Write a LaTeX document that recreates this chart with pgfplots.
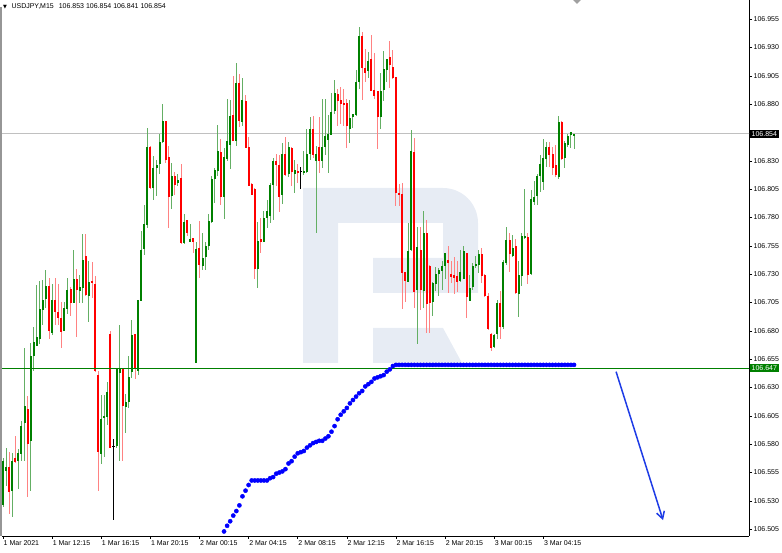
\documentclass[border=0pt]{standalone}
\usepackage{pgfplots}
\pgfplotsset{compat=1.18}
\usepackage{pgfplotstable}
\usepackage{fontspec}
\setmainfont{Liberation Sans}
\newfontfamily\dejavu{DejaVu Sans}
\usetikzlibrary{arrows.meta}
\definecolor{upbody}{RGB}{0,128,0}
\definecolor{upwick}{RGB}{100,175,100}
\definecolor{dnbody}{RGB}{255,0,0}
\definecolor{dnwick}{RGB}{255,130,130}
\definecolor{lvl}{RGB}{0,128,0}
\definecolor{wm}{RGB}{231,236,244}
\definecolor{dotblue}{RGB}{0,0,255}
\definecolor{arrowblue}{RGB}{30,60,230}

\pgfplotstableread{
i o h l c
0 106.528 106.568 106.525 106.567
1 106.558 106.578 106.544 106.561
2 106.561 106.574 106.519 106.539
3 106.539 106.574 106.517 106.566
4 106.568 106.588 106.564 106.565
5 106.566 106.577 106.542 106.573
6 106.573 106.601 106.566 106.598
7 106.598 106.665 106.566 106.613
8 106.613 106.624 106.535 106.582
9 106.582 106.670 106.539 106.657
10 106.657 106.683 106.645 106.670
11 106.668 106.721 106.668 106.676
12 106.674 106.724 106.668 106.700
13 106.699 106.725 106.686 106.708
14 106.708 106.734 106.700 106.720
15 106.721 106.728 106.674 106.681
16 106.679 106.722 106.677 106.708
17 106.708 106.728 106.686 106.698
18 106.698 106.722 106.686 106.692
19 106.692 106.706 106.665 106.680
20 106.680 106.705 106.680 106.700
21 106.700 106.727 106.695 106.717
22 106.718 106.720 106.695 106.706
23 106.706 106.752 106.705 106.727
24 106.727 106.736 106.676 106.717
25 106.715 106.730 106.705 106.719
26 106.719 106.766 106.705 106.744
27 106.747 106.766 106.711 106.712
28 106.712 106.743 106.689 106.724
29 106.724 106.741 106.709 106.722
30 106.722 106.730 106.645 106.645
31 106.642 106.645 106.539 106.574
32 106.573 106.624 106.563 106.604
33 106.604 106.624 106.570 106.606
34 106.605 106.636 106.598 106.627
35 106.677 106.680 106.577 106.577
37 106.578 106.648 106.577 106.646
38 106.643 106.686 106.566 106.648
39 106.646 106.648 106.566 106.614
40 106.614 106.626 106.591 106.618
41 106.618 106.659 106.613 106.640
42 106.645 106.690 106.638 106.678
43 106.678 106.678 106.639 106.648
44 106.645 106.708 106.643 106.708
45 106.708 106.768 106.706 106.753
46 106.753 106.791 106.747 106.775
47 106.774 106.859 106.771 106.843
48 106.843 106.843 106.805 106.807
49 106.807 106.835 106.796 106.825
50 106.825 106.832 106.800 106.828
51 106.828 106.854 106.818 106.848
52 106.848 106.881 106.846 106.866
53 106.866 106.866 106.829 106.832
54 106.835 106.844 106.772 106.800
55 106.800 106.829 106.788 106.818
56 106.818 106.821 106.800 106.810
57 106.811 106.819 106.808 106.814
58 106.815 106.828 106.758 106.758
59 106.758 106.784 106.758 106.777
60 106.778 106.778 106.765 106.766
61 106.759 106.774 106.758 106.762
62 106.762 106.762 106.750 106.758
63 106.652 106.758 106.652 106.752
64 106.754 106.777 106.727 106.739
65 106.739 106.767 106.735 106.746
66 106.746 106.759 106.735 106.755
67 106.755 106.784 106.752 106.777
68 106.777 106.817 106.776 106.815
69 106.814 106.824 106.793 106.822
70 106.822 106.862 106.817 106.839
71 106.839 106.850 106.792 106.799
72 106.799 106.842 106.779 106.834
73 106.834 106.886 106.831 106.850
74 106.845 106.884 106.823 106.871
75 106.871 106.905 106.848 106.848
76 106.848 106.918 106.845 106.899
77 106.899 106.908 106.861 106.865
78 106.865 106.903 106.861 106.884
79 106.884 106.888 106.842 106.842
80 106.843 106.852 106.809 106.809
81 106.811 106.812 106.801 106.801
82 106.806 106.806 106.726 106.736
83 106.736 106.777 106.719 106.761
84 106.762 106.780 106.749 106.759
85 106.759 106.787 106.759 106.781
86 106.781 106.796 106.771 106.787
87 106.782 106.811 106.776 106.809
88 106.809 106.834 106.779 106.830
89 106.830 106.837 106.808 106.827
90 106.827 106.836 106.786 106.799
91 106.800 106.847 106.793 106.837
92 106.837 106.852 106.818 106.818
93 106.818 106.848 106.817 106.842
94 106.842 106.843 106.809 106.821
95 106.820 106.831 106.802 106.824
96 106.823 106.828 106.811 106.821
98 106.820 106.839 106.818 106.822
99 106.821 106.859 106.820 106.837
100 106.837 106.869 106.831 106.859
101 106.859 106.871 106.834 106.836
102 106.830 106.845 106.768 106.837
103 106.843 106.869 106.820 106.830
104 106.830 106.886 106.825 106.843
105 106.842 106.886 106.837 106.852
106 106.850 106.871 106.820 106.855
107 106.853 106.890 106.853 106.874
108 106.874 106.902 106.872 106.890
109 106.890 106.894 106.861 106.884
110 106.885 106.896 106.864 106.881
111 106.882 106.894 106.861 106.880
112 106.881 106.885 106.842 106.861
113 106.860 106.885 106.847 106.869
114 106.869 106.872 106.860 106.871
115 106.871 106.910 106.869 106.900
116 106.900 106.949 106.894 106.940
117 106.941 106.944 106.884 106.913
118 106.913 106.929 106.900 106.909
119 106.910 106.928 106.905 106.919
120 106.921 106.941 106.893 106.893
121 106.893 106.925 106.885 106.888
122 106.893 106.893 106.842 106.870
123 106.870 106.908 106.859 106.893
124 106.893 106.928 106.884 106.911
125 106.911 106.922 106.902 106.921
126 106.922 106.937 106.896 106.915
127 106.913 106.928 106.903 106.904
128 106.904 106.904 106.790 106.802
129 106.802 106.810 106.790 106.800
130 106.802 106.811 106.700 106.732
131 106.732 106.732 106.707 106.724
132 106.724 106.776 106.724 106.751
133 106.751 106.858 106.751 106.839
134 106.839 106.850 106.700 106.716
135 106.717 106.773 106.669 106.755
136 106.752 106.773 106.700 106.717
137 106.717 106.786 106.700 106.768
138 106.768 106.778 106.679 106.705
139 106.738 106.739 106.679 106.706
140 106.706 106.724 106.694 106.723
141 106.723 106.737 106.716 106.732
142 106.731 106.736 106.711 106.734
143 106.733 106.743 106.717 106.738
144 106.738 106.749 106.726 106.749
145 106.744 106.755 106.713 106.741
146 106.732 106.743 106.724 106.729
147 106.730 106.746 106.713 106.727
148 106.729 106.742 106.714 106.724
149 106.724 106.751 106.723 106.732
150 106.726 106.755 106.726 106.751
151 106.749 106.749 106.692 106.710
152 106.708 106.730 106.707 106.719
153 106.719 106.741 106.717 106.738
154 106.738 106.748 106.737 106.740
155 106.739 106.752 106.732 106.749
156 106.749 106.755 106.724 106.729
157 106.730 106.731 106.710 106.711
158 106.711 106.714 106.682 106.682
159 106.679 106.679 106.663 106.666
160 106.666 106.679 106.666 106.677
161 106.677 106.707 106.673 106.705
162 106.705 106.716 106.673 106.684
163 106.684 106.743 106.682 106.742
164 106.741 106.773 106.739 106.761
165 106.761 106.767 106.733 106.749
166 106.748 106.765 106.746 106.755
167 106.755 106.762 106.713 106.713
168 106.713 106.742 106.692 106.730
169 106.729 106.767 106.721 106.764
170 106.763 106.805 106.761 106.765
171 106.764 106.768 106.723 106.730
172 106.730 106.805 106.730 106.796
173 106.795 106.814 106.793 106.800
174 106.800 106.820 106.793 106.818
175 106.818 106.836 106.803 106.828
176 106.812 106.850 106.805 106.834
177 106.833 106.847 106.825 106.844
178 106.843 106.847 106.825 106.836
179 106.837 106.843 106.818 106.825
180 106.827 106.844 106.816 106.818
181 106.817 106.871 106.815 106.866
182 106.865 106.866 106.831 106.833
183 106.833 106.849 106.825 106.846
184 106.845 106.855 106.844 106.853
185 106.853 106.856 106.843 106.856
186 106.853 106.854 106.841 106.854
}\candles

% doji candles (open = close), drawn in black
\pgfplotstableread{
i o h l c
36 106.578 106.586 106.514 106.578
97 106.821 106.825 106.806 106.821
}\dojis

\pgfplotstableread{
i p
72 106.503
73 106.508
74 106.512
75 106.517
76 106.521
77 106.526
78 106.534
79 106.539
80 106.544
81 106.548
82 106.548
83 106.548
84 106.548
85 106.548
86 106.548
87 106.550
88 106.551
89 106.554
90 106.555
91 106.556
92 106.558
93 106.563
94 106.565
95 106.569
96 106.572
97 106.573
98 106.574
99 106.577
100 106.579
101 106.581
102 106.582
103 106.583
104 106.583
105 106.585
106 106.587
107 106.591
108 106.596
109 106.602
110 106.606
111 106.609
112 106.612
113 106.616
114 106.619
115 106.622
116 106.625
117 106.627
118 106.631
119 106.633
120 106.635
121 106.638
122 106.639
123 106.640
124 106.641
125 106.644
126 106.646
127 106.649
128 106.650
129 106.650
130 106.650
131 106.650
132 106.650
133 106.650
134 106.650
135 106.650
136 106.650
137 106.650
138 106.650
139 106.650
140 106.650
141 106.650
142 106.650
143 106.650
144 106.650
145 106.650
146 106.650
147 106.650
148 106.650
149 106.650
150 106.650
151 106.650
152 106.650
153 106.650
154 106.650
155 106.650
156 106.650
157 106.650
158 106.650
159 106.650
160 106.650
161 106.650
162 106.650
163 106.650
164 106.650
165 106.650
166 106.650
167 106.650
168 106.650
169 106.650
170 106.650
171 106.650
172 106.650
173 106.650
174 106.650
175 106.650
176 106.650
177 106.650
178 106.650
179 106.650
180 106.650
181 106.650
182 106.650
183 106.650
184 106.650
185 106.650
186 106.650
}\signal

\pgfplotsset{
  candlepart/.style n args={2}{draw=none, no marks, forget plot,
    error bars/.cd, y dir=both, y explicit, error mark=none,
    error bar style={draw=#1, line width=#2, solid}},
}

\begin{document}
\begin{tikzpicture}
% watermark logo (decoration, behind the chart)
\fill[wm] (303pt,365pt) -- (443pt,365pt) arc[start angle=90, end angle=0, radius=35pt]
  -- (478pt,260pt) -- (373pt,260pt) -- (373pt,295pt) -- (443pt,295pt) -- (443pt,330pt)
  -- (338pt,330pt) -- (338pt,190pt) -- (303pt,190pt) -- cycle;
\fill[wm] (373pt,225pt) -- (443pt,225pt) -- (462pt,190pt) -- (373pt,190pt) -- cycle;

\begin{axis}[
  at={(2pt,17pt)}, anchor=south west,
  scale only axis, width=747pt, height=536pt,
  xmin=-0.33, xmax=243.0,
  ymin=106.499, ymax=106.972,
  axis x line*=bottom, axis y line*=right,
  axis line style={-, black, line width=0.8pt},
  tick align=outside, major tick length=3pt,
  tick style={black, line width=0.6pt},
  xtick={0,16,32,48,64,80,96,112,128,144,160,176},
  xticklabels={1 Mar 2021, 1 Mar 12:15, 1 Mar 16:15, 1 Mar 20:15, 2 Mar 00:15, 2 Mar 04:15, 2 Mar 08:15, 2 Mar 12:15, 2 Mar 16:15, 2 Mar 20:15, 3 Mar 00:15, 3 Mar 04:15},
  xticklabel style={anchor=north west, xshift=-1pt, inner sep=1.5pt},
  ytick={106.505,106.530,106.555,106.580,106.605,106.630,106.655,106.680,106.705,106.730,106.755,106.780,106.805,106.830,106.880,106.905,106.930,106.955},
  yticklabel style={anchor=west, inner sep=1.5pt},
  yticklabel={\pgfmathprintnumber[fixed, fixed zerofill, precision=3, 1000 sep={}, assume math mode=true]{\tick}},
  /pgf/number format/assume math mode=true,
  tick label style={font=\fontsize{7}{8}\selectfont},
  minor tick num=0,
  clip=true,
]
% current price line
\addplot[color={rgb,255:red,192;green,192;blue,192}, line width=0.8pt, forget plot] coordinates {(-1,106.854) (250,106.854)};

% wicks
\addplot[restrict expr to domain={\thisrow{c}-\thisrow{o}}{0:1}, candlepart={upwick}{1pt}]
  table[x=i, y expr={(\thisrow{h}+\thisrow{l})/2}, y error expr={(\thisrow{h}-\thisrow{l})/2}] {\candles};
\addplot[restrict expr to domain={\thisrow{c}-\thisrow{o}}{-1:-0.0005}, candlepart={dnwick}{1pt}]
  table[x=i, y expr={(\thisrow{h}+\thisrow{l})/2}, y error expr={(\thisrow{h}-\thisrow{l})/2}] {\candles};
\addplot[candlepart={black}{1pt}]
  table[x=i, y expr={(\thisrow{h}+\thisrow{l})/2}, y error expr={(\thisrow{h}-\thisrow{l})/2}] {\dojis};

% bodies
\addplot[restrict expr to domain={\thisrow{c}-\thisrow{o}}{0:1}, candlepart={upbody}{2pt}]
  table[x=i, y expr={(\thisrow{o}+\thisrow{c})/2}, y error expr={abs(\thisrow{c}-\thisrow{o})/2}] {\candles};
\addplot[restrict expr to domain={\thisrow{c}-\thisrow{o}}{-1:-0.0005}, candlepart={dnbody}{2pt}]
  table[x=i, y expr={(\thisrow{o}+\thisrow{c})/2}, y error expr={abs(\thisrow{c}-\thisrow{o})/2}] {\candles};
\addplot[only marks, mark=-, mark size=1.2pt, black, forget plot] table[x=i, y=c] {\dojis};

% support level
\addplot[lvl, line width=1.3pt, forget plot] coordinates {(-1,106.647) (250,106.647)};

% signal dots
\addplot[only marks, mark=*, mark size=2.1pt, color=dotblue, forget plot] table[x=i, y=p] {\signal};

% forecast arrow
\addplot[arrowblue, line width=1.5pt, -{Straight Barb[length=7pt, width=8pt]}, forget plot] coordinates {(199.7,106.644) (215.0,106.513)};

\coordinate (gl) at (axis cs:243.0,106.647);
\coordinate (kl) at (axis cs:243.0,106.854);
\end{axis}

\node[fill=lvl, text=white, anchor=west, inner xsep=2pt, inner ysep=1.5pt, font=\fontsize{7}{8}\selectfont] at ([xshift=0.5pt]gl) {106.647};
\node[fill=black, text=white, anchor=west, inner xsep=2pt, inner ysep=1.5pt, font=\fontsize{7}{8}\selectfont] at ([xshift=0.5pt]kl) {106.854};

% window border and header
\draw[color={rgb,255:red,150;green,150;blue,150}, line width=1.5pt] (0.75pt,17pt) -- (0.75pt,546pt);
\fill[color={rgb,255:red,160;green,160;blue,160}] (573pt,553pt) -- (581pt,553pt) -- (577pt,549pt) -- cycle;
\node[anchor=west, inner sep=0pt, font=\fontsize{7}{8}\selectfont] at (3pt,546pt) {{\dejavu\fontsize{5}{5}\selectfont ▼}\hspace{4.5pt}USDJPY,M15\hspace{5pt}106.853 106.854 106.841 106.854};

\pgfresetboundingbox
\path[use as bounding box] (0,0) rectangle (782pt,553pt);
\end{tikzpicture}
\end{document}
